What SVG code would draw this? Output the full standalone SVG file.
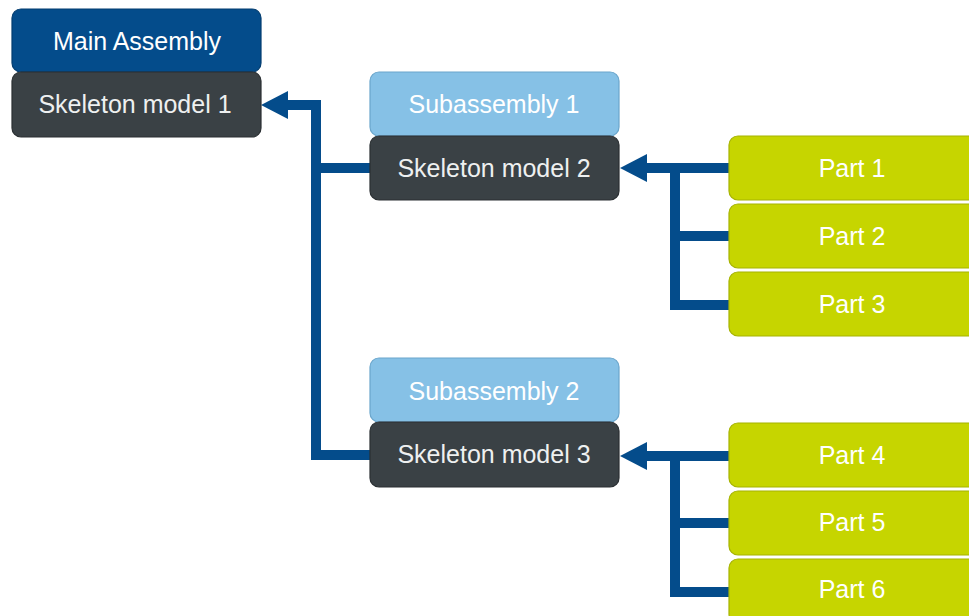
<svg xmlns="http://www.w3.org/2000/svg" width="969" height="616" viewBox="0 0 969 616">
  <style>
    .box { stroke-width: 1.2; }
    .main { fill: #044c8b; stroke: #033d70; }
    .skel { fill: #3a4145; stroke: #2a2f32; }
    .sub { fill: #86c1e6; stroke: #6aa6cc; }
    .part { fill: #c6d500; stroke: #a6b300; }
    .lbl { font-family: "Liberation Sans", Arial, sans-serif; font-size: 25px; fill: #ffffff; text-anchor: middle; }
    .dim { fill: #eef0f0; }
    .link { fill: none; stroke: #044c8b; stroke-width: 10; stroke-linejoin: miter; stroke-linecap: butt; }
  </style>
  <defs>
    <marker id="arrow" markerUnits="userSpaceOnUse" viewBox="0 0 27 28" markerWidth="27" markerHeight="28" refX="0" refY="14" orient="auto">
      <path d="M0,0 L27,14 L0,28 Z" fill="#044c8b"/>
    </marker>
  </defs>

  <rect width="969" height="616" fill="#ffffff"/>

  <!-- connectors -->
  <g id="connectors">
    <path class="link" d="M370,455 H316 V105 H288" marker-end="url(#arrow)"/>
    <path class="link" d="M370,168 H316"/>
    <path class="link" d="M729,168 H647" marker-end="url(#arrow)"/>
    <path class="link" d="M675,168 V305 H729"/>
    <path class="link" d="M675,236 H729"/>
    <path class="link" d="M729,456 H647" marker-end="url(#arrow)"/>
    <path class="link" d="M675,456 V592 H729"/>
    <path class="link" d="M675,523 H729"/>
  </g>

  <!-- main assembly -->
  <g id="main-assembly">
    <rect class="box main" x="12" y="9" width="249" height="63" rx="9"/>
    <text class="lbl" x="137" y="50">Main Assembly</text>
  </g>
  <g id="skeleton-1">
    <rect class="box skel" x="12" y="72" width="249" height="65" rx="9"/>
    <text class="lbl dim" x="135" y="113">Skeleton model 1</text>
  </g>

  <!-- subassembly 1 -->
  <g id="subassembly-1">
    <rect class="box sub" x="370" y="72" width="249" height="64" rx="9"/>
    <text class="lbl" x="494" y="113">Subassembly 1</text>
  </g>
  <g id="skeleton-2">
    <rect class="box skel" x="370" y="136" width="249" height="64" rx="9"/>
    <text class="lbl dim" x="494" y="177">Skeleton model 2</text>
  </g>

  <!-- subassembly 2 -->
  <g id="subassembly-2">
    <rect class="box sub" x="370" y="358" width="249" height="64" rx="9"/>
    <text class="lbl" x="494" y="400">Subassembly 2</text>
  </g>
  <g id="skeleton-3">
    <rect class="box skel" x="370" y="422" width="249" height="65" rx="9"/>
    <text class="lbl dim" x="494" y="463">Skeleton model 3</text>
  </g>

  <!-- parts -->
  <g id="part-1">
    <rect class="box part" x="729" y="136" width="250" height="64" rx="9"/>
    <text class="lbl" x="852" y="177">Part 1</text>
  </g>
  <g id="part-2">
    <rect class="box part" x="729" y="204" width="250" height="64" rx="9"/>
    <text class="lbl" x="852" y="245">Part 2</text>
  </g>
  <g id="part-3">
    <rect class="box part" x="729" y="272" width="250" height="64" rx="9"/>
    <text class="lbl" x="852" y="313">Part 3</text>
  </g>
  <g id="part-4">
    <rect class="box part" x="729" y="423" width="250" height="64" rx="9"/>
    <text class="lbl" x="852" y="464">Part 4</text>
  </g>
  <g id="part-5">
    <rect class="box part" x="729" y="491" width="250" height="64" rx="9"/>
    <text class="lbl" x="852" y="531">Part 5</text>
  </g>
  <g id="part-6">
    <rect class="box part" x="729" y="559" width="250" height="64" rx="9"/>
    <text class="lbl" x="852" y="598">Part 6</text>
  </g>
</svg>
